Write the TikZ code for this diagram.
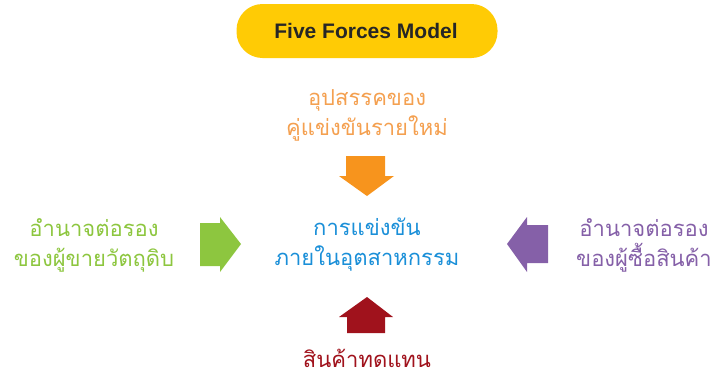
\documentclass[tikz,border=0pt]{standalone}
\usepackage{fontspec}
\newfontfamily\thaifont[Script=Thai]{Loma}
\newfontfamily\titlefont{Liberation Sans}
\definecolor{pillyellow}{HTML}{FFCB05}
\definecolor{entrantorange}{HTML}{F7941D}
\definecolor{entranttext}{HTML}{F4A050}
\definecolor{supplygreen}{HTML}{8DC63F}
\definecolor{rivalblue}{HTML}{1A8FD8}
\definecolor{buyerpurple}{HTML}{8560A8}
\definecolor{substred}{HTML}{A0121C}
\tikzset{
  force/.style={font=\thaifont\fontsize{22}{30}\selectfont, align=center, inner sep=0pt},
  pill/.style={fill=pillyellow, rounded corners=26pt, minimum width=261pt, minimum height=54pt, inner sep=0pt}
}
\begin{document}
\begin{tikzpicture}[x=1pt,y=-1pt]
\useasboundingbox (0,0) rectangle (713,378);
% title
\node[pill] (title) at (367,31) {};
\node[font=\titlefont\bfseries\fontsize{21}{24}\selectfont, text=black!85] (titletext) at (366,31) {Five Forces Model};
% five forces texts
\node[force, text=entranttext] (entrant) at (367,115) {อุปสรรคของ\\คู่แข่งขันรายใหม่};
\node[force, text=supplygreen] (supplier) at (94,245) {อำนาจต่อรอง\\ของผู้ขายวัตถุดิบ};
\node[force, text=rivalblue] (rivalry) at (367,245) {การแข่งขัน\\ภายในอุตสาหกรรม};
\node[force, text=buyerpurple] (buyer) at (644,245) {อำนาจต่อรอง\\ของผู้ซื้อสินค้า};
\node[force, text=substred] (substitute) at (367,358) {สินค้าทดแทน};
% block arrows pointing at the centre
\fill[entrantorange] (346,156) -- (385,156) -- (385,176) -- (394,176) -- (367,196) -- (339,176) -- (346,176) -- cycle;
\fill[supplygreen] (200,223) -- (220,223) -- (220,217) -- (241,244) -- (220,272) -- (220,266) -- (200,266) -- cycle;
\fill[buyerpurple] (548,225) -- (527,225) -- (527,217) -- (507,244) -- (527,272) -- (527,263) -- (548,263) -- cycle;
\fill[substred] (347,333) -- (385,333) -- (385,317) -- (393,317) -- (367,297) -- (339,317) -- (347,317) -- cycle;
\end{tikzpicture}
\end{document}
